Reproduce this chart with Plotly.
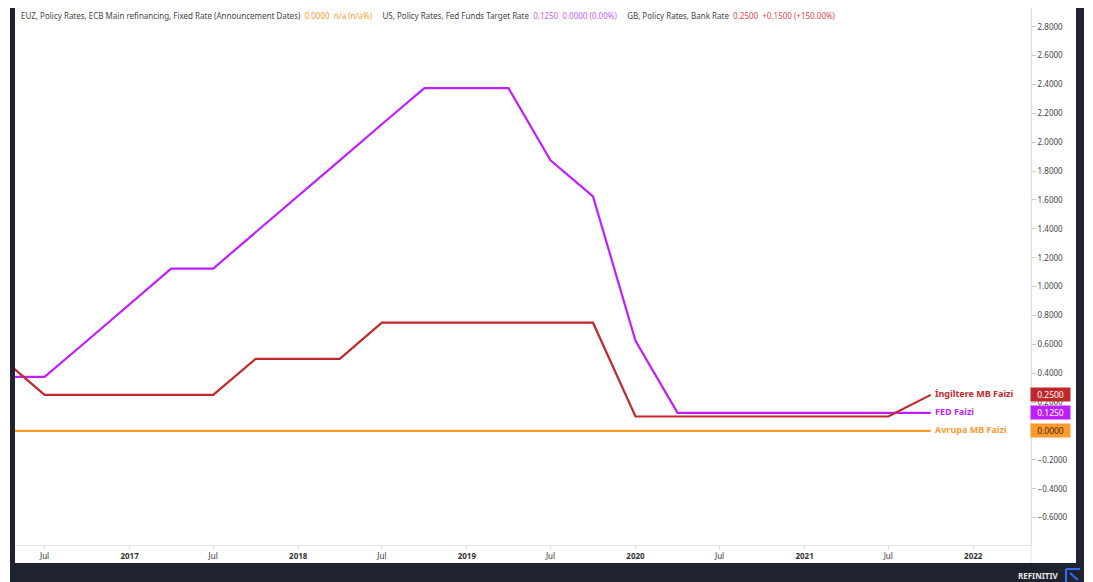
import plotly.graph_objects as go

dates = ["2016-04-01", "2016-07-01", "2016-10-01", "2017-01-01", "2017-04-01", "2017-07-01",
         "2017-10-01", "2018-01-01", "2018-04-01", "2018-07-01", "2018-10-01", "2019-01-01",
         "2019-04-01", "2019-07-01", "2019-10-01", "2020-01-01", "2020-04-01", "2020-07-01",
         "2020-10-01", "2021-01-01", "2021-04-01", "2021-07-01", "2021-10-01"]
fed = [0.375, 0.375, 0.625, 0.875, 1.125, 1.125, 1.375, 1.625, 1.875, 2.125, 2.375, 2.375,
       2.375, 1.875, 1.625, 0.625, 0.125, 0.125, 0.125, 0.125, 0.125, 0.125, 0.125]
gb = [0.5, 0.25, 0.25, 0.25, 0.25, 0.25, 0.5, 0.5, 0.5, 0.75, 0.75, 0.75,
      0.75, 0.75, 0.75, 0.1, 0.1, 0.1, 0.1, 0.1, 0.1, 0.1, 0.25]
ecb = [0.0, 0.0, 0.0, 0.0, 0.0, 0.0, 0.0, 0.0, 0.0, 0.0, 0.0, 0.0,
       0.0, 0.0, 0.0, 0.0, 0.0, 0.0, 0.0, 0.0, 0.0, 0.0, 0.0]

series_names = ["Avrupa MB Faizi", "FED Faizi", "İngiltere MB Faizi"]
series_colors = ["#ff9a2e", "#bf1fff", "#c0282a"]
tag_text_colors = ["#3a2a10", "#ffffff", "#ffffff"]
last_labels = ["0.0000", "0.1250", "0.2500"]

x_tickvals = ["2016-07-01", "2017-01-01", "2017-07-01", "2018-01-01", "2018-07-01", "2019-01-01",
              "2019-07-01", "2020-01-01", "2020-07-01", "2021-01-01", "2021-07-01", "2022-01-01"]
x_ticktext = ["Jul", "<b>2017</b>", "Jul", "<b>2018</b>", "Jul", "<b>2019</b>",
              "Jul", "<b>2020</b>", "Jul", "<b>2021</b>", "Jul", "<b>2022</b>"]

# the page adds an 8px body margin; work in screen pixels and shift
OFF = 8
SW, SH = 1093, 582
W, H = SW - OFF, SH - OFF
PL, PR, PT, PB = 15, 1031, 8, 545          # plot area in screen pixels
L, R, T, B = PL - OFF, SW - PR, PT - OFF, SH - PB
PW, PH = PR - PL, PB - PT


def px(x):
    return (x - PL) / PW


def py(y):
    return (PB - y) / PH


fig = go.Figure()
for vals, name, col in zip([ecb, fed, gb], series_names, series_colors):
    fig.add_trace(go.Scatter(x=dates, y=vals, mode="lines", name=name,
                             line=dict(color=col, width=2.2), showlegend=False,
                             hoverinfo="skip"))

font = "Noto Sans"
ann = []
for vals, name, col, tcol, lab in zip([ecb, fed, gb], series_names, series_colors,
                                      tag_text_colors, last_labels):
    ann.append(dict(x=dates[-1], y=vals[-1], xref="x", yref="y", text="<b>" + name + "</b>",
                    showarrow=False, xanchor="left", yanchor="middle", xshift=2, yshift=1,
                    font=dict(family=font, size=9, color=col)))
    ann.append(dict(x=1, y=vals[-1], xref="paper", yref="y", text=lab, showarrow=False,
                    xanchor="left", yanchor="middle", xshift=-1, bgcolor=col, borderpad=1,
                    width=37, height=11, font=dict(family=font, size=8.5, color=tcol)))

header = ('<span style="color:#444">EUZ, Policy Rates, ECB Main refinancing, Fixed Rate (Announcement Dates)</span>'
          '  <span style="color:#ff9a2e">0.0000  n/a (n/a%)</span>'
          '     <span style="color:#444">US, Policy Rates, Fed Funds Target Rate</span>'
          '  <span style="color:#c860ff">0.1250  0.0000 (0.00%)</span>'
          '     <span style="color:#444">GB, Policy Rates, Bank Rate</span>'
          '  <span style="color:#e04848">0.2500  +0.1500 (+150.00%)</span>')
ann.append(dict(x=px(19), y=py(16), xref="paper", yref="paper", text=header, showarrow=False,
                xanchor="left", yanchor="middle", font=dict(family=font, size=8, color="#444")))
ann.append(dict(x=px(1061), y=py(575), xref="paper", yref="paper", text="<b>REFINITIV</b>",
                showarrow=False, xanchor="right", yanchor="middle",
                font=dict(family=font, size=8, color="#e8e8e8")))

shapes = [
    dict(type="rect", xref="paper", yref="paper", x0=px(10), x1=px(1084), y0=py(OFF), y1=py(582),
         fillcolor="#1f2330", line=dict(width=0), layer="below"),
    dict(type="rect", xref="paper", yref="paper", x0=px(15), x1=px(1076), y0=py(OFF), y1=py(563),
         fillcolor="#ffffff", line=dict(width=0), layer="below"),
    dict(type="line", xref="paper", yref="paper", x0=1, x1=1, y0=py(563), y1=py(OFF),
         line=dict(color="#e4e4e4", width=1), layer="below"),
    # logo
    dict(type="line", xref="paper", yref="paper", x0=px(1066), x1=px(1080), y0=py(569), y1=py(569),
         line=dict(color="#2f6bff", width=2)),
    dict(type="line", xref="paper", yref="paper", x0=px(1066), x1=px(1066), y0=py(569), y1=py(582),
         line=dict(color="#2f6bff", width=2)),
    dict(type="line", xref="paper", yref="paper", x0=px(1070), x1=px(1078), y0=py(573), y1=py(580),
         line=dict(color="#2f6bff", width=2)),
]

fig.update_layout(
    width=W, height=H,
    margin=dict(l=L, r=R, t=T, b=B, pad=0),
    paper_bgcolor="#ffffff", plot_bgcolor="#ffffff",
    annotations=ann, shapes=shapes,
    xaxis=dict(type="date", range=["2016-04-28", "2022-05-06"], tickvals=x_tickvals,
               ticktext=x_ticktext, showgrid=False, zeroline=False, showline=True,
               linecolor="#e4e4e4", ticks="outside", ticklen=3, tickcolor="#d8d8d8",
               tickfont=dict(family=font, size=8, color="#333")),
    yaxis=dict(side="right", range=[-0.79, 2.93], dtick=0.2, tick0=0, tickformat=".4f",
               showgrid=False, zeroline=False, showline=True, linecolor="#e4e4e4",
               ticks="outside", ticklen=4, tickcolor="#cccccc",
               tickfont=dict(family=font, size=8, color="#444")),
)

fig.write_html("out.html")
